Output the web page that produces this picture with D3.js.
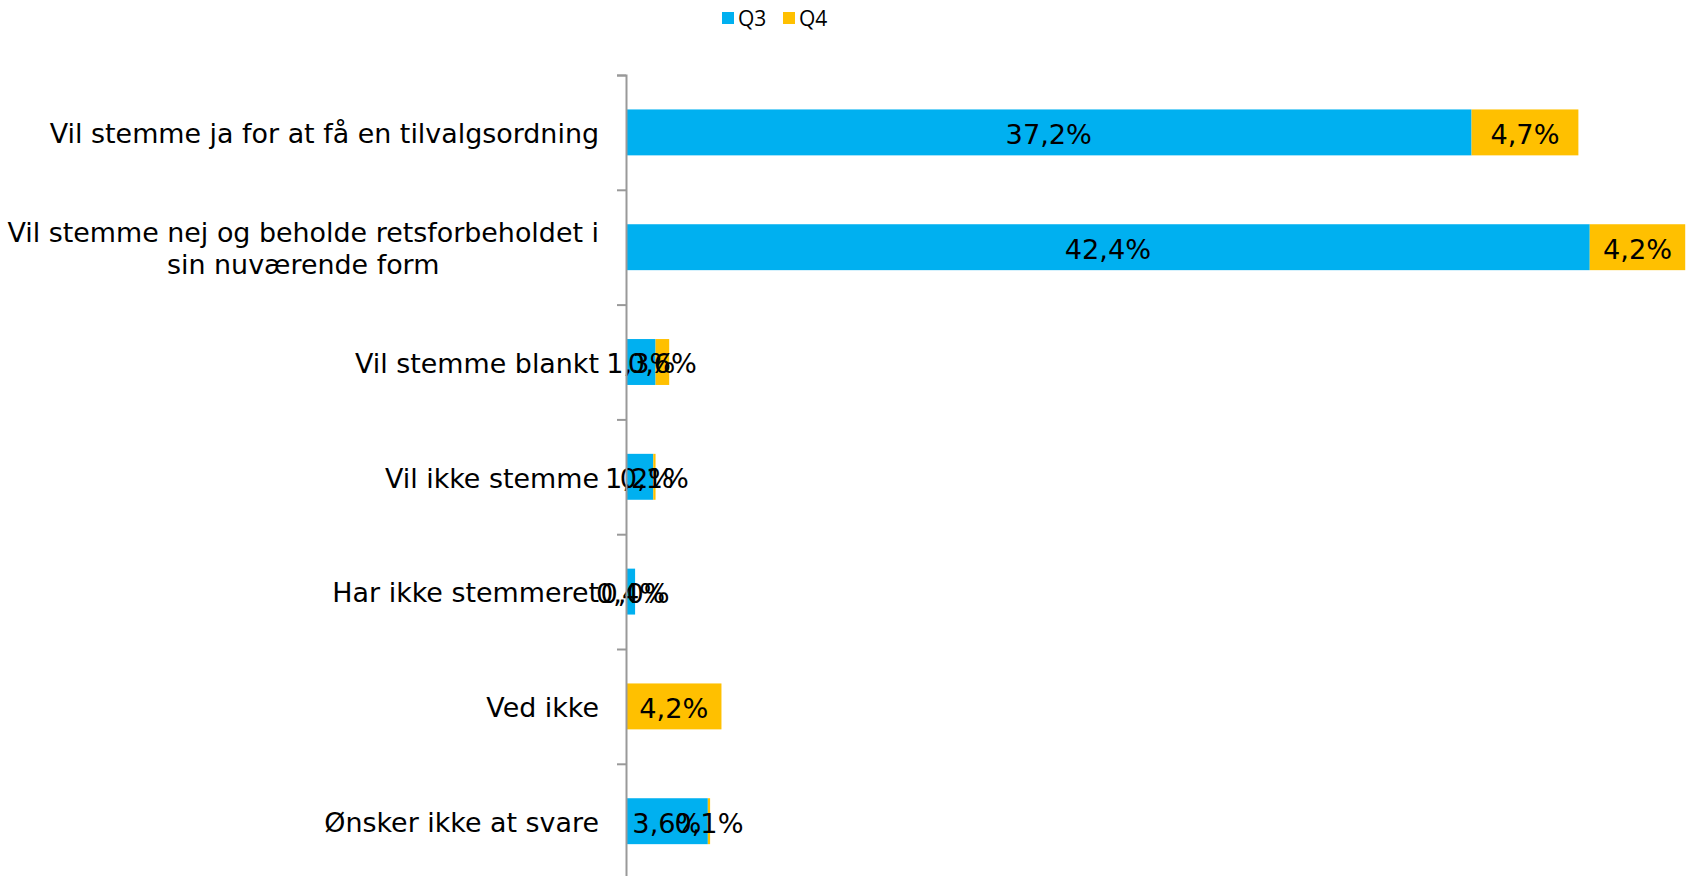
<!DOCTYPE html>
<html>
<head>
<meta charset="utf-8">
<script src="https://cdn.jsdelivr.net/npm/d3@7"></script>
<style>
html,body{margin:0;padding:0;background:#fff;overflow:hidden;}
svg{display:block;}
</style>
</head>
<body>
<svg id="chart" width="1686" height="876"></svg>
<script>
const categories = [
  ["Vil stemme ja for at få en tilvalgsordning"],
  ["Vil stemme nej og beholde retsforbeholdet i", "sin nuværende form"],
  ["Vil stemme blankt"],
  ["Vil ikke stemme"],
  ["Har ikke stemmeret"],
  ["Ved ikke"],
  ["Ønsker ikke at svare"]
];
const seriesNames = ["Q3", "Q4"];
const q3Values = [37.2, 42.4, 1.3, 1.2, 0.4, null, 3.6];
const q4Values = [4.7, 4.2, 0.6, 0.1, 0.0, 4.2, 0.1];
const colors = ["#00B0F0", "#FFC000"];

const svg = d3.select("#chart");
const x0 = 626, y0 = 75, band = 114.8;

const x = d3.scaleLinear().domain([0, 50]).range([x0, x0 + 50 * 22.73]);
const yEdge = d3.scaleLinear().domain([0, categories.length]).range([y0, y0 + band * categories.length]);
const y = d3.scaleBand().domain(d3.range(categories.length)).range([y0, y0 + band * categories.length]).paddingInner(0.6).paddingOuter(0.3);

const fmt = v => d3.format(".1f")(v).replace(".", ",") + "%";
const FONT = "DejaVu Sans, Verdana, sans-serif";

// bars
const seriesData = [q3Values, q4Values];
categories.forEach((c, i) => {
  let acc = 0;
  seriesData.forEach((vals, s) => {
    const v = vals[i];
    if (v === null || v === undefined) return;
    const xs = x(acc), xe = x(acc + v);
    svg.append("rect")
      .attr("x", xs).attr("y", y(i))
      .attr("width", Math.max(0, xe - xs)).attr("height", y.bandwidth())
      .attr("fill", colors[s]);
    acc += v;
  });
});

// value labels
categories.forEach((c, i) => {
  let acc = 0;
  seriesData.forEach((vals, s) => {
    const v = vals[i];
    if (v === null || v === undefined) return;
    const xm = (x(acc) + x(acc + v)) / 2;
    svg.append("text")
      .attr("x", xm).attr("y", y(i) + y.bandwidth() / 2)
      .attr("dy", "0.42em")
      .attr("text-anchor", "middle")
      .attr("font-family", FONT)
      .attr("font-size", "27.2px")
      .attr("fill", "#000")
      .text(fmt(v));
    acc += v;
  });
});

// axis
const axis = d3.axisLeft(yEdge).tickValues(d3.range(categories.length + 1)).tickFormat("").tickSizeInner(9).tickSizeOuter(9);
const ag = svg.append("g").attr("transform", `translate(${x0},0)`).call(axis);
ag.selectAll("path,line").attr("stroke", "#999").attr("stroke-width", 2);

// category labels
const labelRight = 599;
categories.forEach((lines, i) => {
  const cy = y(i) + y.bandwidth() / 2;
  const lh = 31.5;
  const t = svg.append("text")
    .attr("font-family", FONT)
    .attr("font-size", "26.9px")
    .attr("fill", "#000")
    .attr("text-anchor", "middle");
  lines.forEach((ln, k) => {
    t.append("tspan").attr("x", 0)
      .attr("y", cy + (k - (lines.length - 1) / 2) * lh)
      .attr("dy", "0.40em")
      .text(ln);
  });
  let maxW = 0;
  t.selectAll("tspan").each(function(){ maxW = Math.max(maxW, this.getComputedTextLength()); });
  t.selectAll("tspan").attr("x", labelRight - maxW / 2);
});

// legend
const legendX = [722, 783];
seriesNames.forEach((n, s) => {
  svg.append("rect").attr("x", legendX[s]).attr("y", 12).attr("width", 12).attr("height", 12).attr("fill", colors[s]);
  svg.append("text").attr("x", legendX[s] + 16).attr("y", 18.5).attr("dy", "0.36em")
    .attr("font-family", "Open Sans, sans-serif").attr("font-size", "21px").attr("fill", "#000")
    .text(n);
});
</script>
</body>
</html>
